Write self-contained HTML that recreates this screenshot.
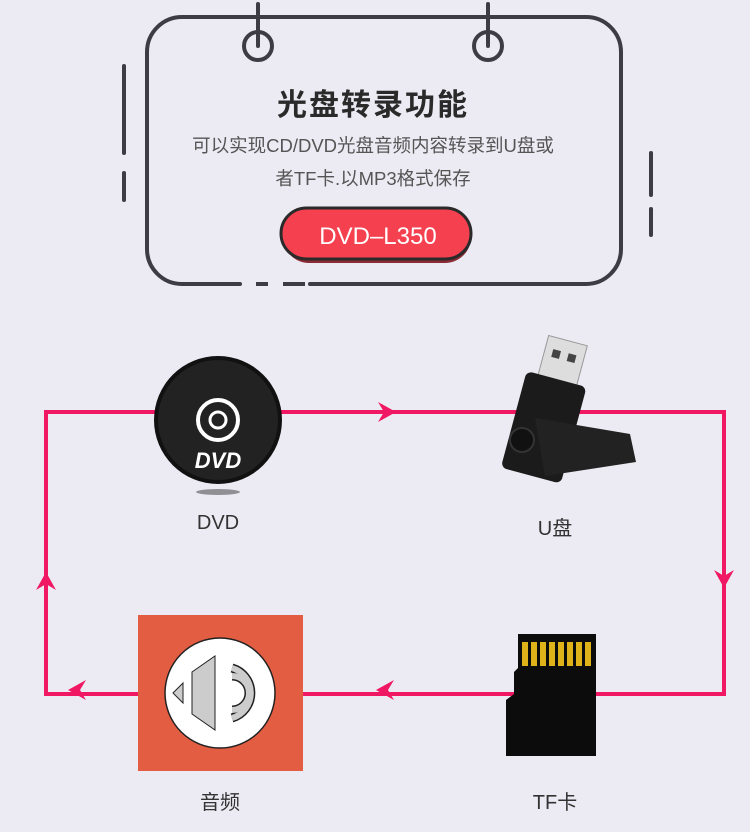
<!DOCTYPE html>
<html><head><meta charset="utf-8"><style>
body{margin:0;width:750px;height:832px;background:#ecebf3;overflow:hidden;font-family:"Liberation Sans","Noto Sans CJK SC",sans-serif;}
.t{position:absolute;text-align:center;color:#333;}
</style></head><body>
<svg width="750" height="832" style="position:absolute;left:0;top:0">
<g stroke="#3d3c44" stroke-width="4" fill="none" stroke-linecap="round">
<path d="M240 284 H182 A35 35 0 0 1 147 249 V52 A35 35 0 0 1 182 17 H586 A35 35 0 0 1 621 52 V249 A35 35 0 0 1 586 284 H310"/>
<line x1="258" y1="4" x2="258" y2="46"/><circle cx="258" cy="46" r="14"/>
<line x1="488" y1="4" x2="488" y2="46"/><circle cx="488" cy="46" r="14"/>
<line x1="124" y1="66" x2="124" y2="153"/><line x1="124" y1="173" x2="124" y2="200"/>
<line x1="651" y1="153" x2="651" y2="195"/><line x1="651" y1="209" x2="651" y2="235"/>
</g>
<g stroke="#3d3c44" stroke-width="4"><line x1="256" y1="284" x2="268" y2="284"/><line x1="283" y1="284" x2="305" y2="284"/></g>
<rect x="283" y="211" width="188" height="52" rx="26" fill="#8a2a33"/>
<rect x="281" y="208" width="190" height="51" rx="25.5" fill="#f5404f" stroke="#2a2a2a" stroke-width="3"/>
<text x="378" y="244" text-anchor="middle" font-size="24" fill="#fff" font-family="Liberation Sans">DVD–L350</text>
<rect x="46" y="412" width="678" height="282" fill="none" stroke="#f01862" stroke-width="4"/>
<g fill="#f01862">
<path d="M378 402 L396 412 L378 422 L384 412 Z"/>
<path d="M714 570 L724 588 L734 570 L724 576 Z"/>
<path d="M394 680 L376 690 L394 700 L388 690 Z"/>
<path d="M86 680 L68 690 L86 700 L80 690 Z"/>
<path d="M36 590 L46 572 L56 590 L46 584 Z"/></g>
<ellipse cx="218" cy="492" rx="22" ry="3" fill="#333" opacity="0.5"/>
<circle cx="218" cy="420" r="64" fill="#111"/>
<circle cx="218" cy="420" r="60" fill="#222"/>
<circle cx="218" cy="420" r="20" fill="none" stroke="#fff" stroke-width="4"/>
<circle cx="218" cy="420" r="8" fill="none" stroke="#fff" stroke-width="3"/>
<text x="218" y="468" text-anchor="middle" font-size="22" font-weight="bold" font-style="italic" fill="#fff">DVD</text>
<g transform="rotate(15 550 400)">
<rect x="532" y="338" width="40" height="42" fill="#ddd" stroke="#999"/>
<rect x="540" y="350" width="8" height="8" fill="#444"/><rect x="556" y="350" width="8" height="8" fill="#444"/>
<rect x="520" y="378" width="62" height="100" rx="6" fill="#1b1b1b"/>
</g>
<path d="M535 418 L630 434 L636 462 L545 476 Z" fill="#222"/>
<circle cx="522" cy="440" r="12" fill="#111" stroke="#333" stroke-width="2"/>
<path d="M518 634 H596 V756 H506 V700 L514 694 V672 L518 668 Z" fill="#0c0c0c"/>
<g fill="#e0b21a"><rect x="522" y="642" width="6" height="24"/><rect x="531" y="642" width="6" height="24"/><rect x="540" y="642" width="6" height="24"/><rect x="549" y="642" width="6" height="24"/><rect x="558" y="642" width="6" height="24"/><rect x="567" y="642" width="6" height="24"/><rect x="576" y="642" width="6" height="24"/><rect x="585" y="642" width="6" height="24"/></g>
<rect x="138" y="615" width="165" height="156" fill="#e35d42"/>
<circle cx="220" cy="693" r="55" fill="#fff" stroke="#222" stroke-width="1.5"/>
<path d="M173 693 L183 683 V703 Z" fill="#ccc" stroke="#222"/>
<path d="M192 672 L215 656 V730 L192 714 Z" fill="#ccc" stroke="#222"/>
<g fill="none" stroke="#222" stroke-width="9"><path d="M232 668 A26 26 0 0 1 232 718"/><path d="M232 676 A17 17 0 0 1 232 710"/></g>
<g fill="none" stroke="#ccc" stroke-width="6"><path d="M232 668 A26 26 0 0 1 232 718"/><path d="M232 676 A17 17 0 0 1 232 710"/></g>
</svg>
<div class="t" style="left:0;width:746px;top:80px;font-size:30px;font-weight:bold;color:#2a2a2a;letter-spacing:2px">光盘转录功能</div>
<div class="t" style="left:0;width:746px;top:132px;font-size:18.5px;color:#555">可以实现CD/DVD光盘音频内容转录到U盘或</div>
<div class="t" style="left:0;width:746px;top:165px;font-size:18.5px;color:#555">者TF卡.以MP3格式保存</div>
<div class="t" style="left:168px;width:100px;top:512px;font-size:20px">DVD</div>
<div class="t" style="left:505px;width:100px;top:512px;font-size:20px">U盘</div>
<div class="t" style="left:170px;width:100px;top:786px;font-size:20px">音频</div>
<div class="t" style="left:505px;width:100px;top:786px;font-size:20px">TF卡</div>
</body></html>
